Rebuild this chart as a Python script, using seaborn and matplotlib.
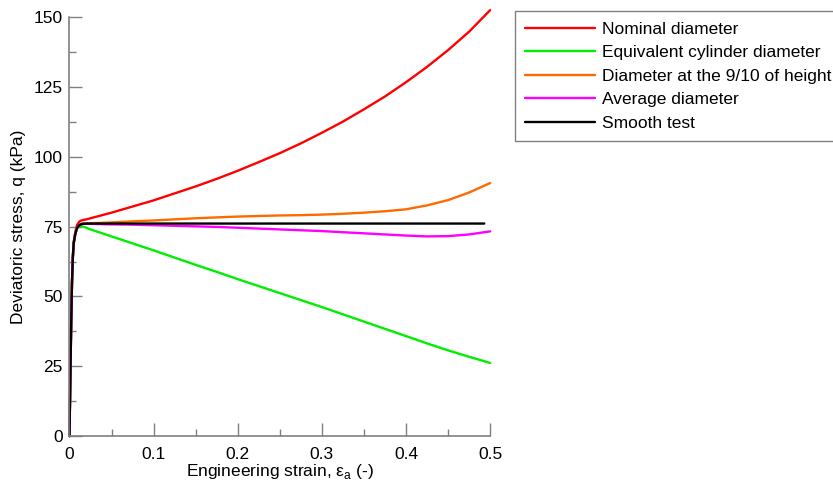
import matplotlib
matplotlib.use("Agg")
import matplotlib.pyplot as plt
import seaborn as sns
from matplotlib.ticker import MultipleLocator

# strain values (-)
strain = [0, 0.001, 0.002, 0.003, 0.004, 0.005, 0.007, 0.009, 0.012, 0.015, 0.02,
          0.025, 0.05, 0.075, 0.1, 0.125, 0.15, 0.175, 0.2, 0.225, 0.25, 0.275, 0.3,
          0.325, 0.35, 0.375, 0.4, 0.425, 0.45, 0.475, 0.5]
strain_smooth = strain[:-1] + [0.493]

# deviatoric stress (kPa)
q_nominal = [0, 20, 40, 55, 64, 69.5, 73.2, 75.6, 76.9, 77.3, 77.6,
             78.0, 80.0, 82.2, 84.4, 86.9, 89.4, 92.1, 95.0, 98.1, 101.3, 104.8, 108.6,
             112.6, 117.0, 121.6, 126.7, 132.2, 138.2, 144.8, 152.5]
q_equivalent = [0, 20, 40, 55, 64, 69, 72.5, 74.3, 75.2, 75.1, 74.6,
                74.0, 71.5, 69.0, 66.5, 63.9, 61.3, 58.8, 56.2, 53.7, 51.2, 48.7, 46.2,
                43.6, 41.0, 38.4, 35.8, 33.2, 30.7, 28.4, 26.2]
q_nine_tenths = [0, 20, 40, 55, 64, 69, 72.5, 74.5, 75.6, 76.0, 76.1,
                 76.2, 76.5, 76.9, 77.2, 77.6, 78.0, 78.3, 78.6, 78.8, 79.0, 79.1, 79.3,
                 79.6, 80.0, 80.5, 81.2, 82.6, 84.5, 87.2, 90.6]
q_average = [0, 20, 40, 55, 64, 69, 72.5, 74.5, 75.6, 76.0, 76.0,
             76.0, 75.8, 75.7, 75.5, 75.3, 75.1, 74.9, 74.6, 74.3, 74.0, 73.7, 73.4,
             73.0, 72.6, 72.2, 71.8, 71.5, 71.6, 72.2, 73.3]
q_smooth = [0, 20, 40, 55, 64, 69, 72.5, 74.5, 75.6, 76.0, 76.1,
            76.1, 76.1, 76.1, 76.1, 76.1, 76.1, 76.1, 76.1, 76.1, 76.1, 76.1, 76.1,
            76.1, 76.1, 76.1, 76.1, 76.1, 76.1, 76.1, 76.1]

sns.set_style("ticks")
plt.rcParams['font.family'] = ['Liberation Sans', 'DejaVu Sans']
plt.rcParams['text.color'] = 'black'
plt.rcParams['axes.labelcolor'] = 'black'

fig = plt.figure(figsize=(8.33, 4.9), dpi=100)
ax = fig.add_axes([0.0834, 0.110, 0.505, 0.855])

series = [
    (strain, q_nominal, '#ff0000', 'Nominal diameter'),
    (strain, q_equivalent, '#00ee00', 'Equivalent cylinder diameter'),
    (strain, q_nine_tenths, '#ff6a00', 'Diameter at the 9/10 of height'),
    (strain, q_average, '#ff00ff', 'Average diameter'),
    (strain_smooth, q_smooth, 'black', 'Smooth test'),
]
for xs, ys, col, lab in series:
    sns.lineplot(x=xs, y=ys, color=col, lw=1.7, label=lab, ax=ax, clip_on=False)

ax.set_xlim(0, 0.5)
ax.set_ylim(0, 150)
ax.set_xticks([0, 0.1, 0.2, 0.3, 0.4, 0.5])
ax.set_xticklabels(['0', '0.1', '0.2', '0.3', '0.4', '0.5'])
ax.xaxis.set_minor_locator(MultipleLocator(0.05))
ax.yaxis.set_major_locator(MultipleLocator(25))
ax.yaxis.set_minor_locator(MultipleLocator(12.5))

sns.despine(ax=ax)
for s in ['left', 'bottom']:
    ax.spines[s].set_color('#808080')
    ax.spines[s].set_linewidth(1.2)
ax.tick_params(which='major', direction='in', length=9.5, width=1, color='#808080',
               labelsize=12.5, labelcolor='black', pad=8)
ax.tick_params(which='minor', direction='in', length=5, width=1, color='#808080')
ax.tick_params(axis='y', which='major', pad=5)

ax.set_xlabel('Engineering strain, ε$_\\mathregular{a}$ (-)', fontsize=12.5, labelpad=0)
ax.set_ylabel('Deviatoric stress, q (kPa)', fontsize=12.5, labelpad=5)

leg = ax.legend(loc='upper left', bbox_to_anchor=(0.618, 0.977), bbox_transform=fig.transFigure,
                fontsize=12.5, frameon=True, fancybox=False, framealpha=1,
                edgecolor='#808080', handlelength=4.0, handletextpad=0.45,
                labelspacing=0.48, borderpad=0.6, borderaxespad=0)
leg.get_frame().set_linewidth(1)

fig.savefig('out.png', dpi=100)
